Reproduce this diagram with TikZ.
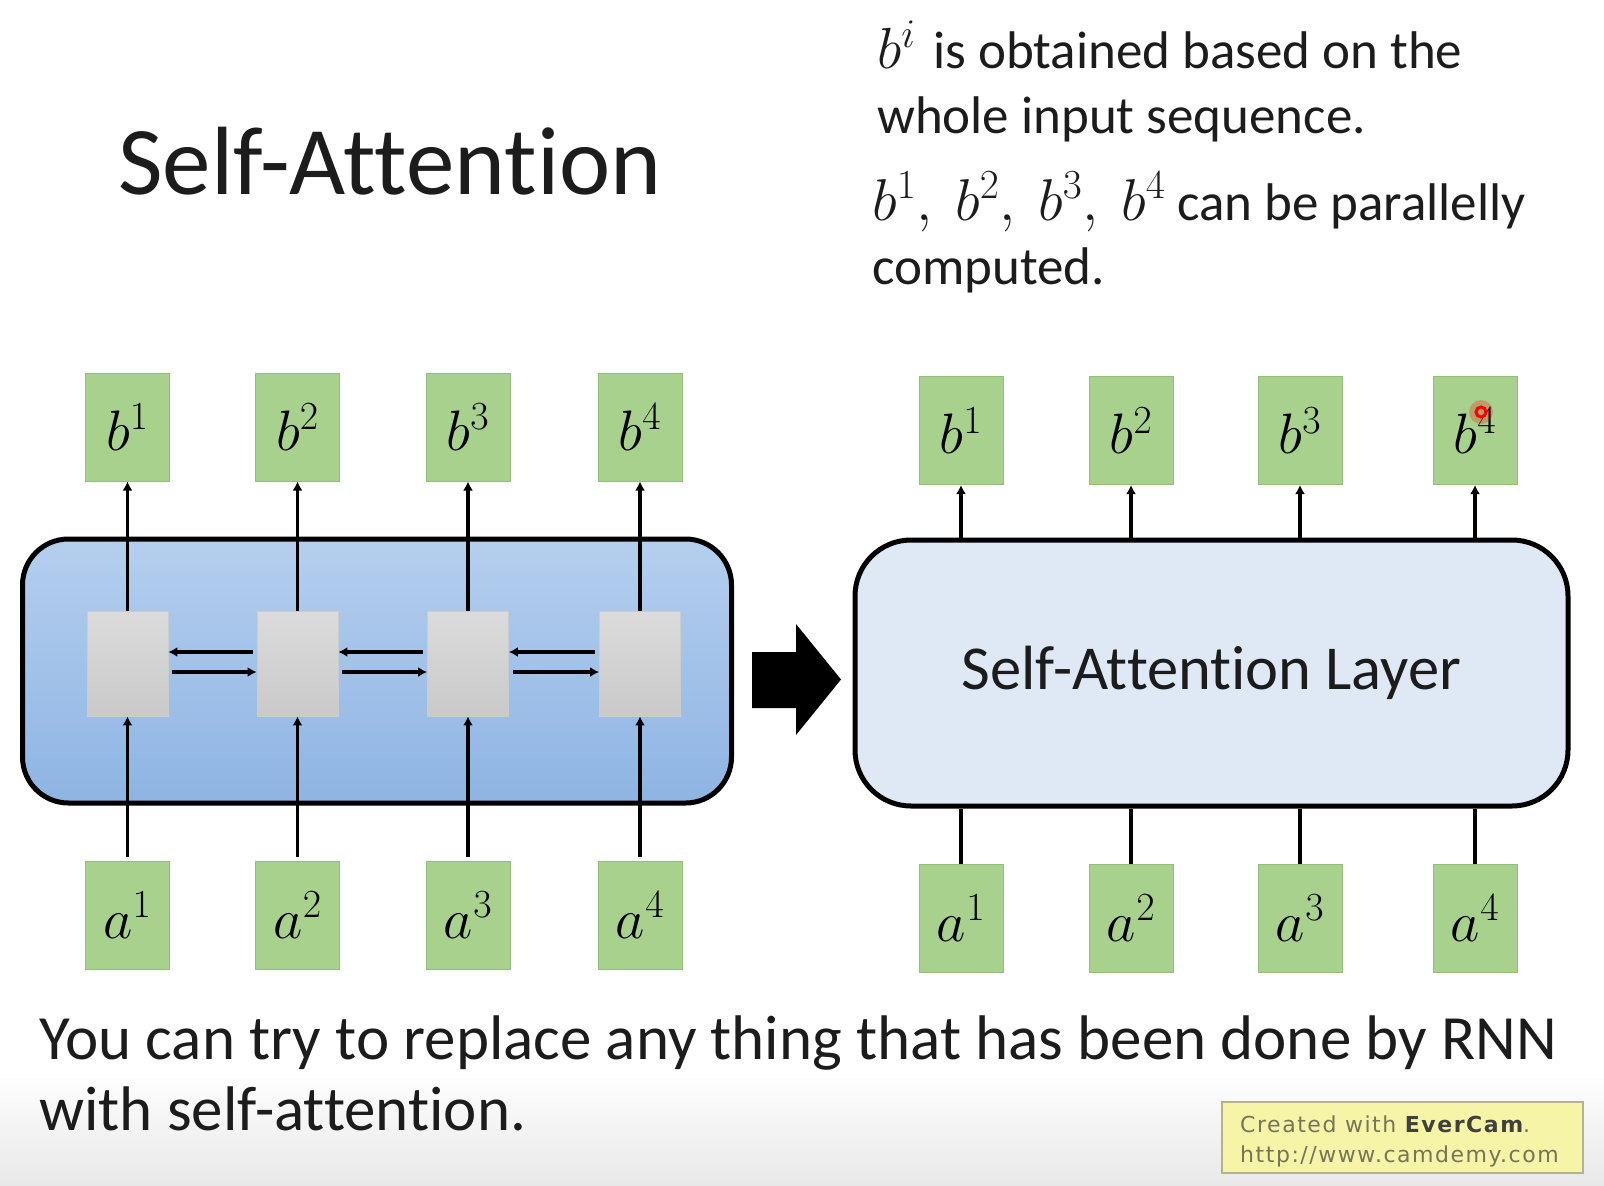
\RequirePackage{fix-cm}
\documentclass[tikz,border=0pt]{standalone}
\usepackage{fontspec}
\setmainfont[Ligatures=NoCommon]{Carlito}
\newfontfamily\vfont[LetterSpace=7]{DejaVu Sans}
\usetikzlibrary{arrows.meta}
\definecolor{gfill}{HTML}{A9D18E}
\definecolor{gline}{HTML}{93BF78}
\definecolor{bluetop}{HTML}{B5CFEE}
\definecolor{bluebot}{HTML}{8EB4E3}
\definecolor{lightblue}{HTML}{DEE9F5}
\definecolor{txt}{HTML}{1C1C1C}
\definecolor{evfill}{HTML}{F6F4A6}
\definecolor{evline}{HTML}{B4B48A}
\definecolor{evtxt}{HTML}{75755A}
\begin{document}
\begin{tikzpicture}[x=1pt,y=-1pt,
  greenbox/.style={draw=gline,line width=1pt,fill=gfill,minimum width=84pt,minimum height=108pt,inner sep=0pt,font=\fontsize{57}{60}\selectfont},
  graybox/.style={draw=gray!40,line width=0.8pt,top color=gray!28,bottom color=gray!42,minimum width=81pt,minimum height=105pt,inner sep=0pt},
  arr/.style={line width=3.4pt,draw=black,-{Latex[length=9pt,width=10pt]}},
  plainline/.style={line width=3.4pt,draw=black},
  bigtext/.style={anchor=base west,inner sep=0pt,text=txt,font=\fontsize{63}{70}\selectfont},
  toptext/.style={anchor=base west,inner sep=0pt,text=txt,font=\fontsize{53}{60}\selectfont},
  evtext/.style={anchor=base west,inner sep=0pt,text=evtxt,font=\vfont\fontsize{22}{24}\selectfont}
]
\useasboundingbox (0,0) rectangle (1604,1186);
\fill[white] (0,0) rectangle (1604,1186);
\shade[top color=white,bottom color=gray!18] (0,1070) rectangle (1604,1186);

% title
\node[anchor=base west,inner sep=0pt,text=txt,font=\fontsize{97}{110}\selectfont] (title) at (118,194) {Self-Attention};

% top right text
\node[toptext] (t1) at (877,68.5) {{\fontsize{58}{60}\selectfont$b^{i}$}\hspace{6pt} is obtained based on the};
\node[toptext] (t2) at (877,133) {whole input sequence.};
\node[toptext] (t3) at (872,220) {{\fontsize{59}{60}\selectfont$b^1,\mkern4mu b^2,\mkern4mu b^3,\mkern4mu b^4$} can be parallelly};
\node[toptext] (t4) at (872,284) {computed.};

% left RNN block
\node[draw=black,line width=5pt,rounded corners=46pt,top color=bluetop,bottom color=bluebot,minimum width=709pt,minimum height=264pt] (rnn) at (377,671) {};

\foreach \i/\x in {1/127.5,2/297.5,3/468,4/640}{
  \node[greenbox] (lb\i) at (\x,427) {$b^{\i}$};
  \node[greenbox] (la\i) at (\x,915) {$a^{\i}$};
  \node[graybox] (lg\i) at (\x,663.5) {};
  \draw[arr] (lg\i.north) -- (lb\i.south);
  \draw[arr,shorten <=4pt] (la\i.north) -- (lg\i.south);
}
\foreach \i/\j in {1/2,2/3,3/4}{
  \draw[arr,shorten <=4pt] ([yshift=11.5pt]lg\j.west) -- ([yshift=11.5pt]lg\i.east);
  \draw[arr,shorten <=4pt] ([yshift=-8.5pt]lg\i.east) -- ([yshift=-8.5pt]lg\j.west);
}

% big arrow
\fill[black] (752,652) -- (796,652) -- (796,624) -- (841,679.5) -- (796,735) -- (796,708) -- (752,708) -- cycle;

% right self-attention block
\node[draw=black,line width=5pt,rounded corners=56pt,fill=lightblue,minimum width=713pt,minimum height=266pt,font=\fontsize{62.5}{70}\selectfont,text=txt] (sal) at (1211.5,673) {Self-Attention Layer};

\foreach \i/\x in {1/961,2/1131,3/1300,4/1475}{
  \node[greenbox] (rb\i) at (\x,430.5) {$b^{\i}$};
  \node[greenbox] (ra\i) at (\x,918) {$a^{\i}$};
  \draw[arr] (rb\i.south |- sal.north) -- (rb\i.south);
  \draw[plainline] (ra\i.north) -- (ra\i.north |- sal.south);
}
% red pointer mark
\fill[red,opacity=0.25] (1481,412) circle (12pt);
\draw[red,line width=3pt] (1481,412) circle (5pt);

% bottom text
\node[bigtext] (l1) at (39,1059) {You can try to replace any thing that has been done by RNN};
\node[bigtext] (l2) at (39,1130) {with self-attention.};

% EverCam badge
\node[draw=evline,line width=1.5pt,fill=evfill,minimum width=361pt,minimum height=71pt,inner sep=0pt] (ev) at (1402.5,1137.5) {};
\node[evtext] (ev1) at (1240,1132) {Created with {\color{black!75}\bfseries EverCam}.};
\node[evtext] (ev2) at (1240,1162) {http://www.camdemy.com};
\end{tikzpicture}
\end{document}
